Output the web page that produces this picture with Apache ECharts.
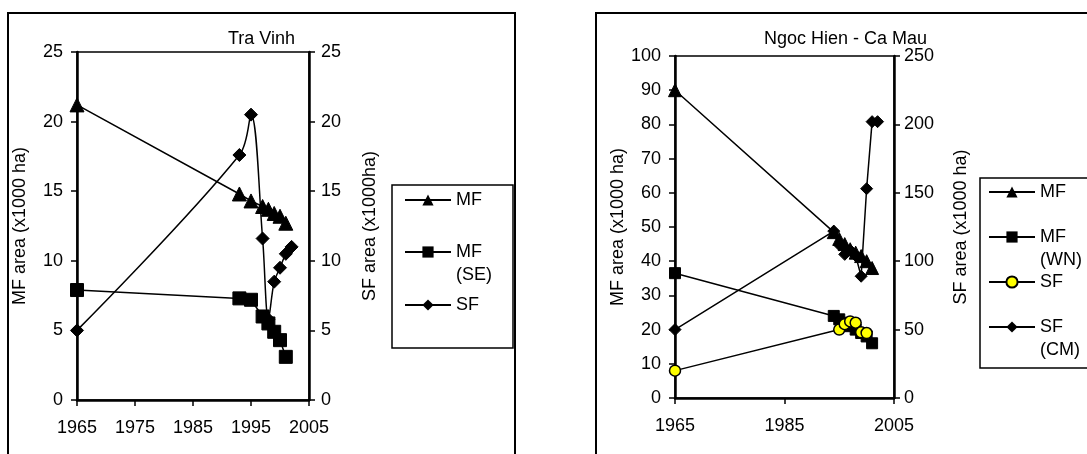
<!DOCTYPE html>
<html><head><meta charset="utf-8">
<script src="https://cdn.jsdelivr.net/npm/echarts@6/dist/echarts.min.js"></script>
<style>html,body{margin:0;padding:0;background:#fff}#c{width:1087px;height:454px}</style>
</head><body><div id="c"></div>
<script>
// ---- Tra Vinh (left panel) ----
const tvMF   = [[1965,21.2],[1993,14.8],[1995,14.3],[1997,13.9],[1998,13.7],[1999,13.4],[2000,13.2],[2001,12.7]];
const tvMFSE = [[1965,7.9],[1993,7.3],[1995,7.2],[1997,6.0],[1998,5.5],[1999,4.9],[2000,4.3],[2001,3.1]];
const tvSF   = [[1965,5.0],[1993,17.6],[1995,20.5],[1997,11.6],[1998,5.8],[1999,8.5],[2000,9.5],[2001,10.5],[2002,11.0]];
// ---- Ngoc Hien - Ca Mau (right panel) ----
const nhMF   = [[1965,90],[1994,48.5],[1995,46.5],[1996,45],[1997,43.5],[1998,42.5],[1999,41.5],[2000,40],[2001,38]];
const nhMFWN = [[1965,36.5],[1994,24],[1995,23],[1996,22],[1997,21],[1998,20],[1999,19],[2000,18],[2001,16]];
const nhSF   = [[1965,20],[1995,50],[1996,54],[1997,56],[1998,55],[1999,48],[2000,47.5]];
const nhSFCM = [[1965,50],[1994,122],[1995,112],[1996,105],[1997,108],[1998,104],[1999,89],[2000,153],[2001,202],[2002,202]];

const titles = ['Tra Vinh', 'Ngoc Hien - Ca Mau'];
const legendLabels = {tvMF:'MF', tvMFSE:'MF\n(SE)', tvSF:'SF', nhMF:'MF', nhMFWN:'MF\n(WN)', nhSF:'SF', nhSFCM:'SF\n(CM)'};
const tvYTicks = {min:0, max:25, interval:5};
const nhYLeft = {min:0, max:100, interval:10};
const nhYRight = {min:0, max:250, interval:50};

const FONT = 'Liberation Sans, Arial, sans-serif';
const FS = 18;
const txt = {color:'#000', fontFamily:FONT, fontSize:FS};

function axisStyle(extra){
  return Object.assign({
    axisLine:{show:true, onZero:false, lineStyle:{color:'#000', width:2.5}},
    axisTick:{show:true, inside:false, length:6, lineStyle:{color:'#000', width:1.5}},
    axisLabel:Object.assign({margin:12}, txt),
    splitLine:{show:false},
    nameTextStyle:txt
  }, extra);
}

function series(name, data, xi, yi, symbol, size, opts){
  return Object.assign({
    name, type:'line', data, xAxisIndex:xi, yAxisIndex:yi,
    symbol, symbolSize:size, showSymbol:true,
    lineStyle:{color:'#000', width:1.5},
    itemStyle:{color:'#000', borderColor:'#000'},
    emphasis:{disabled:true}, animation:false
  }, opts||{});
}

function legendItem(name, left, cy, twoLine){
  const lh = twoLine ? 23 : 18;
  const ts = Object.assign({lineHeight:lh}, txt);
  return {
    data:[name], left, top: twoLine ? cy - 1.5*lh : cy - 9, orient:'vertical',
    itemWidth:46, itemHeight:14, itemGap:0, padding:0, selectedMode:false,
    formatter:n => (twoLine ? '\n' : '') + legendLabels[n], textStyle:ts
  };
}

const yearLabel = v => String(v);

const chart = echarts.init(document.getElementById('c'), null, {renderer:'canvas'});
chart.setOption({
  animation:false,
  backgroundColor:'#fff',
  title:[
    {text:titles[0], left:228, top:30, padding:0, textStyle:Object.assign({fontWeight:'normal'}, txt)},
    {text:titles[1], left:764, top:30, padding:0, textStyle:Object.assign({fontWeight:'normal'}, txt)}
  ],
  grid:[
    {left:77, top:52, width:232, height:348, show:true, borderColor:'#000', borderWidth:1.5, backgroundColor:'transparent'},
    {left:675, top:56, width:219, height:342, show:true, borderColor:'#000', borderWidth:1.5, backgroundColor:'transparent'}
  ],
  xAxis:[
    axisStyle({type:'value', gridIndex:0, min:1965, max:2005, interval:10, axisLabel:Object.assign({margin:19, formatter:yearLabel}, txt)}),
    axisStyle({type:'value', gridIndex:1, min:1965, max:2005, interval:20, axisLabel:Object.assign({margin:19, formatter:yearLabel}, txt)})
  ],
  yAxis:[
    axisStyle(Object.assign({type:'value', gridIndex:0, position:'left', name:'MF area (x1000 ha)', nameLocation:'middle', nameGap:48, axisLabel:Object.assign({margin:14}, txt)}, tvYTicks)),
    axisStyle(Object.assign({type:'value', gridIndex:0, position:'right', name:'SF area (x1000ha)', nameLocation:'middle', nameGap:52, axisLabel:Object.assign({margin:12}, txt)}, tvYTicks)),
    axisStyle(Object.assign({type:'value', gridIndex:1, position:'left', name:'MF area (x1000 ha)', nameLocation:'middle', nameGap:46, axisLabel:Object.assign({margin:14}, txt)}, nhYLeft)),
    axisStyle(Object.assign({type:'value', gridIndex:1, position:'right', name:'SF area (x1000 ha)', nameLocation:'middle', nameGap:58, axisLabel:Object.assign({margin:10}, txt)}, nhYRight))
  ],
  legend:[
    legendItem('tvMF', 404, 200, false),
    legendItem('tvMFSE', 404, 252, true),
    legendItem('tvSF', 404, 305, false),
    legendItem('nhMF', 988, 192, false),
    legendItem('nhMFWN', 988, 237, true),
    legendItem('nhSF', 988, 282, false),
    legendItem('nhSFCM', 988, 327, true)
  ],
  series:[
    series('tvMF', tvMF, 0, 0, 'triangle', 14),
    series('tvMFSE', tvMFSE, 0, 0, 'rect', 13),
    series('tvSF', tvSF, 0, 1, 'diamond', 13, {smooth:0.35}),
    series('nhMF', nhMF, 1, 2, 'triangle', 13),
    series('nhSFCM', nhSFCM, 1, 3, 'diamond', 12),
    series('nhMFWN', nhMFWN, 1, 2, 'rect', 11),
    series('nhSF', nhSF, 1, 3, 'circle', 11, {itemStyle:{color:'#ffff00', borderColor:'#000', borderWidth:1.5}})
  ],
  graphic:[
    {type:'rect', shape:{x:8, y:13, width:507, height:470}, style:{fill:null, stroke:'#000', lineWidth:2}, silent:true, z:-1},
    {type:'rect', shape:{x:596, y:13, width:520, height:470}, style:{fill:null, stroke:'#000', lineWidth:2}, silent:true, z:-1},
    {type:'rect', shape:{x:392, y:185, width:121, height:163}, style:{fill:null, stroke:'#000', lineWidth:1.5}, silent:true, z:-1},
    {type:'rect', shape:{x:980, y:178, width:130, height:190}, style:{fill:null, stroke:'#000', lineWidth:1.5}, silent:true, z:-1}
  ]
});
</script>
</body></html>
